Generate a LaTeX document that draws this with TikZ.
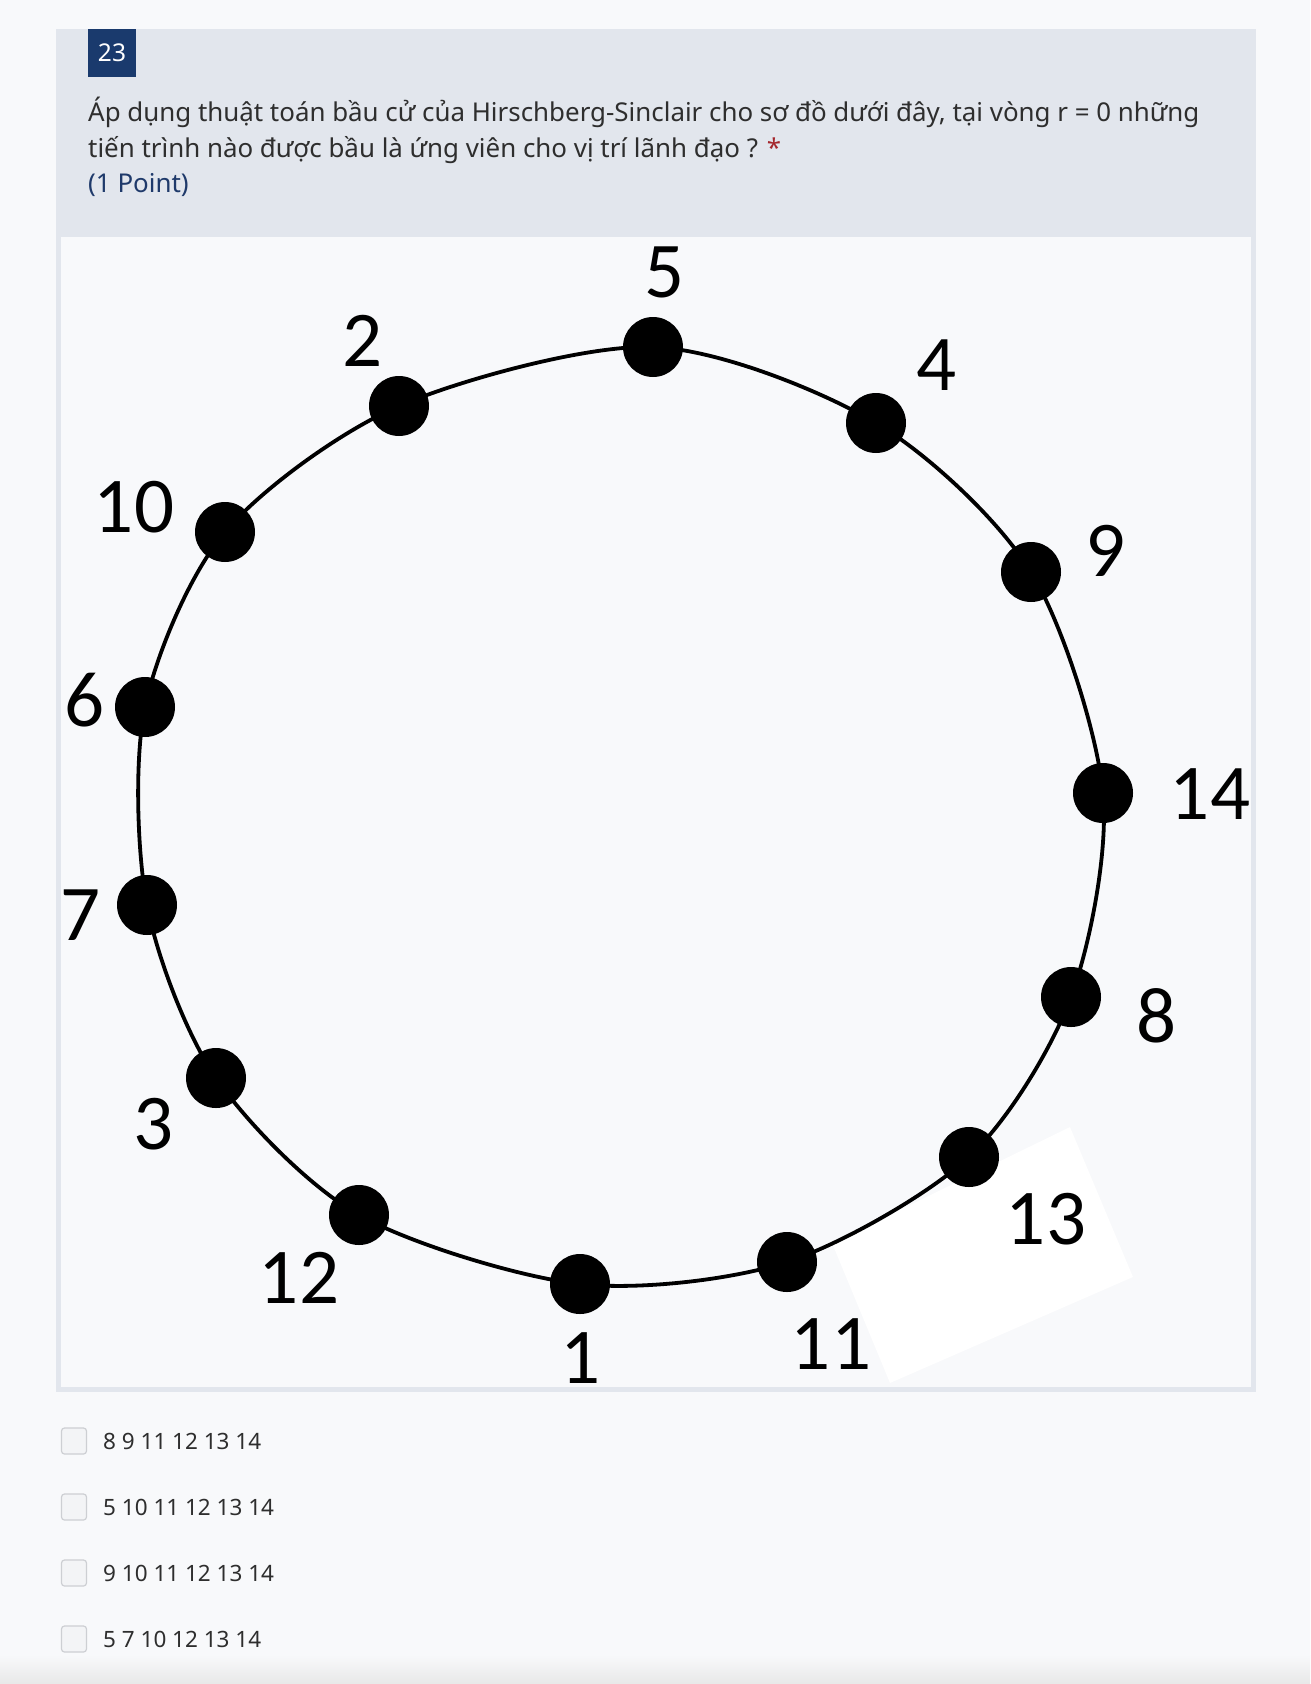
\documentclass[tikz,border=0pt]{standalone}
\usepackage{fontspec}
\setmainfont{Noto Sans}
\newfontfamily\labelfont{Carlito}
\usepackage{tikz}

\definecolor{pagebg}{HTML}{F8F9FB}
\definecolor{panelgray}{HTML}{E2E6ED}
\definecolor{navy}{HTML}{1A3A6D}
\definecolor{pointblue}{HTML}{1F3A6B}
\definecolor{textgray}{HTML}{2E2E2E}
\definecolor{starred}{HTML}{A4262C}
\definecolor{boxline}{HTML}{CDCFD3}
\definecolor{boxfill}{HTML}{F3F4F6}

\tikzset{
  dot/.style={circle, fill=black, minimum size=60pt, inner sep=0pt},
  lbl/.style={inner sep=0pt, font=\labelfont\fontsize{79}{80}\selectfont},
  ring/.style={line width=3.8pt, black},
  qtext/.style={anchor=base west, inner sep=0pt, text=textgray, font=\fontsize{25.9}{36}\selectfont},
  tick/.style={draw=boxline, fill=boxfill, line width=1.2pt, rounded corners=3pt, minimum width=25pt, minimum height=26pt, inner sep=0pt},
  choice/.style={anchor=west, inner sep=0pt, text=textgray, font=\fontsize{22.5}{26}\selectfont}
}

\begin{document}
\begin{tikzpicture}[x=1pt,y=-1pt]
		\useasboundingbox (0,0) rectangle (1310,1684);
		\fill[pagebg] (0,0) rectangle (1310,1684);
		\shade[top color=pagebg, bottom color=black!9] (0,1655) rectangle (1310,1684);
		% question panel and picture
		\fill[panelgray] (56,29) rectangle (1256,1392);
		\fill[pagebg] (61,237) rectangle (1251,1387);
		\fill[white] (1070,1127) -- (1133,1277) -- (890,1383) -- (832,1243) -- cycle;
		\fill[navy] (88,29) rectangle (136,77);
		\node[text=white, font=\fontsize{24.5}{26}\selectfont] (num) at (112,53) {23};
		\node[qtext] (q1) at (88,121) {Áp dụng thuật toán bầu cử của Hirschberg-Sinclair cho sơ đồ dưới đây, tại vòng r = 0 những};
		\node[qtext] (q2) at (88,157) {tiến trình nào được bầu là ứng viên cho vị trí lãnh đạo ? \textcolor{starred}{*}};
		\node[qtext, text=pointblue] (pts) at (88,192) {(1 Point)};
		
		% processes on the ring
		\foreach \n/\x/\y in {5/653/347, 4/876/423, 9/1031/572, 14/1103/793, 8/1071/997, 13/969/1157, 11/787/1262, 1/580/1284, 12/359/1215, 3/216/1078, 7/147/905, 6/145/707, 10/225/532, 2/399/406}
			\coordinate (p\n) at (\x,\y);
		\draw[ring] plot[smooth cycle] coordinates {(p5) (p4) (p9) (p14) (p8) (p13) (p11) (p1) (p12) (p3) (p7) (p6) (p10) (p2)};
		\foreach \n in {5,4,9,14,8,13,11,1,12,3,7,6,10,2}
			\node[dot] (n\n) at (p\n) {};
		\foreach \n/\x/\y in {5/665/272, 4/937/365, 9/1106/551, 14/1210/794, 8/1157/1016, 13/1046/1219, 11/831/1344, 1/581/1358, 12/299/1278, 3/154/1124, 7/81/915, 6/85/700, 10/134/507, 2/363/341}
			\node[lbl] (l\n) at (\x,\y) {\n};
		
		% answers
		\foreach \t [count=\i] in {8 9 11 12 13 14, 5 10 11 12 13 14, 9 10 11 12 13 14, 5 7 10 12 13 14}{
			\node[tick] (c\i) at (74,1375+66*\i) {};
			\node[choice] (a\i) at (103,1375+66*\i) {\t};
		}
		
		\end{tikzpicture}
\end{document}
